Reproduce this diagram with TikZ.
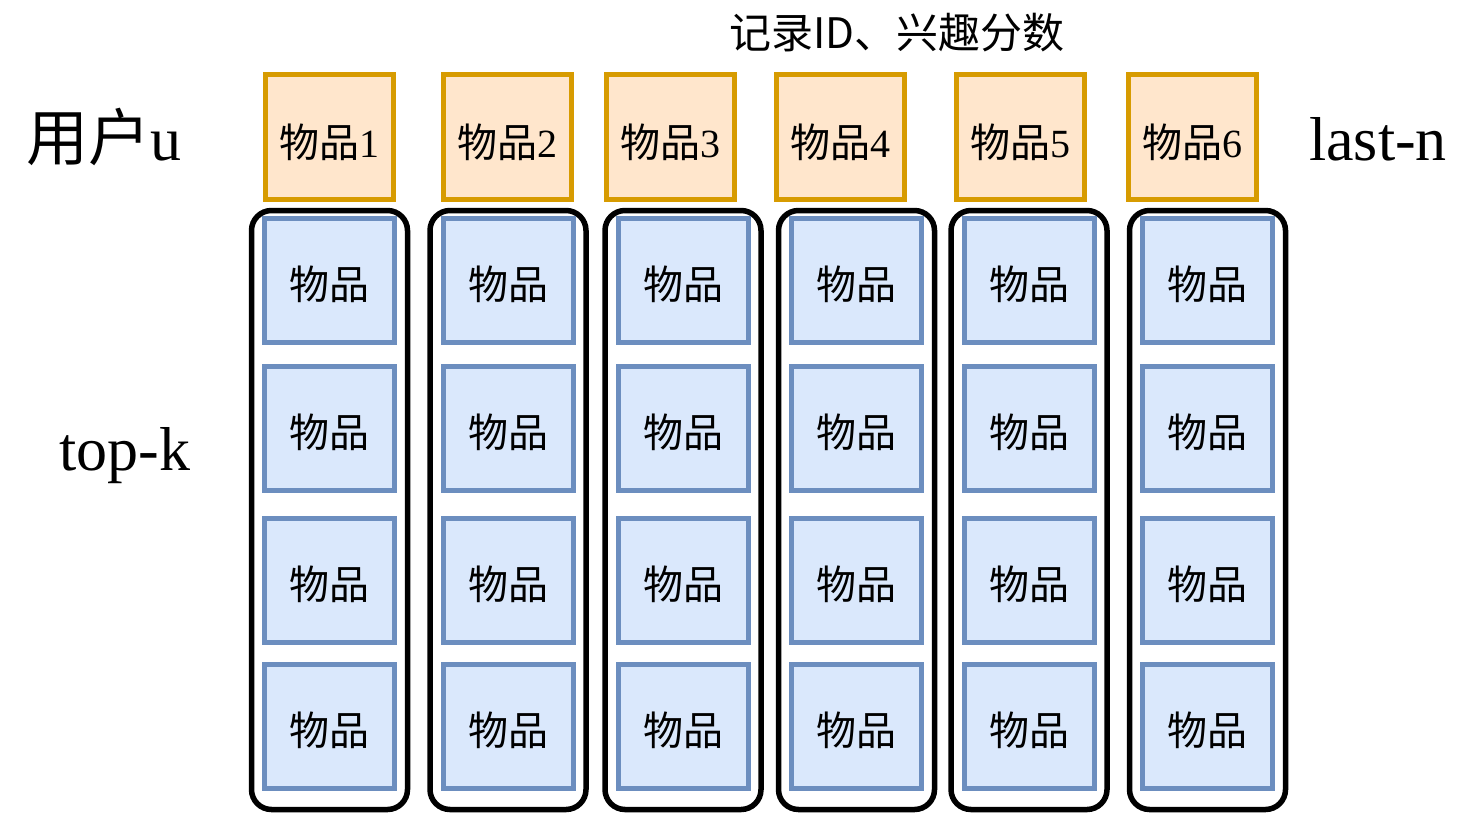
\documentclass[tikz,border=0pt]{standalone}
\usepackage{fontspec}
\setmainfont{Liberation Serif}
\newfontfamily\cjk{Noto Sans CJK SC}
\usepackage{tikz}
\definecolor{chengbian}{HTML}{D79B00}
\definecolor{chengdi}{HTML}{FFE6CC}
\definecolor{lanbian}{HTML}{6C8EBF}
\definecolor{landi}{HTML}{DAE8FC}
\newcommand{\wupin}{{\cjk 物品}}
\def\kuan{1458}
\def\gao{833}

\begin{document}
\begin{tikzpicture}[x=1pt, y=-1pt,
	lastbox/.style={draw=chengbian, fill=chengdi, line width=5pt, minimum width=128pt, minimum height=125pt, inner sep=0pt, text height=43pt, text depth=3pt, font=\fontsize{40}{48}\selectfont},
	itembox/.style={draw=lanbian, fill=landi, line width=5pt, minimum width=130pt, minimum height=124pt, inner sep=0pt, text height=41pt, text depth=3pt, font=\fontsize{40}{48}\selectfont},
	topkcol/.style={draw=black, line width=5.5pt, rounded corners=20pt, minimum width=156pt, minimum height=599pt, inner sep=0pt},
	biaoqian/.style={anchor=base, inner sep=0pt, font=\fontsize{62}{70}\selectfont}]
	\useasboundingbox (0,0) rectangle (\kuan,\gao);
	%\draw[step=100pt, black!20!white] (0,0) grid (\kuan,\gao);
	\node[anchor=base, inner sep=0pt, font=\fontsize{42}{50}\selectfont\cjk] (jilu) at (897,48) {记录ID、兴趣分数};
	\node[biaoqian] (user) at (104,160) {{\cjk 用户}u};
	\node[biaoqian] (topk) at (125,470) {top-k};
	\node[biaoqian] (lastn) at (1378,160) {last-n};
	\foreach \i/\cx/\ox in {1/329.5/329.5, 2/508/507.5, 3/683/670.5, 4/856.5/840.5, 5/1029/1020.5, 6/1207.5/1192}{
		\node[lastbox] (last\i) at (\ox,137) {\wupin\i};
		\node[topkcol] (col\i) at (\cx,510) {};
		\foreach \j/\ry in {1/280.5, 2/428.5, 3/580, 4/726}
			\node[itembox] (item\i-\j) at (\cx,\ry) {\wupin};
	}
\end{tikzpicture}
\end{document}
